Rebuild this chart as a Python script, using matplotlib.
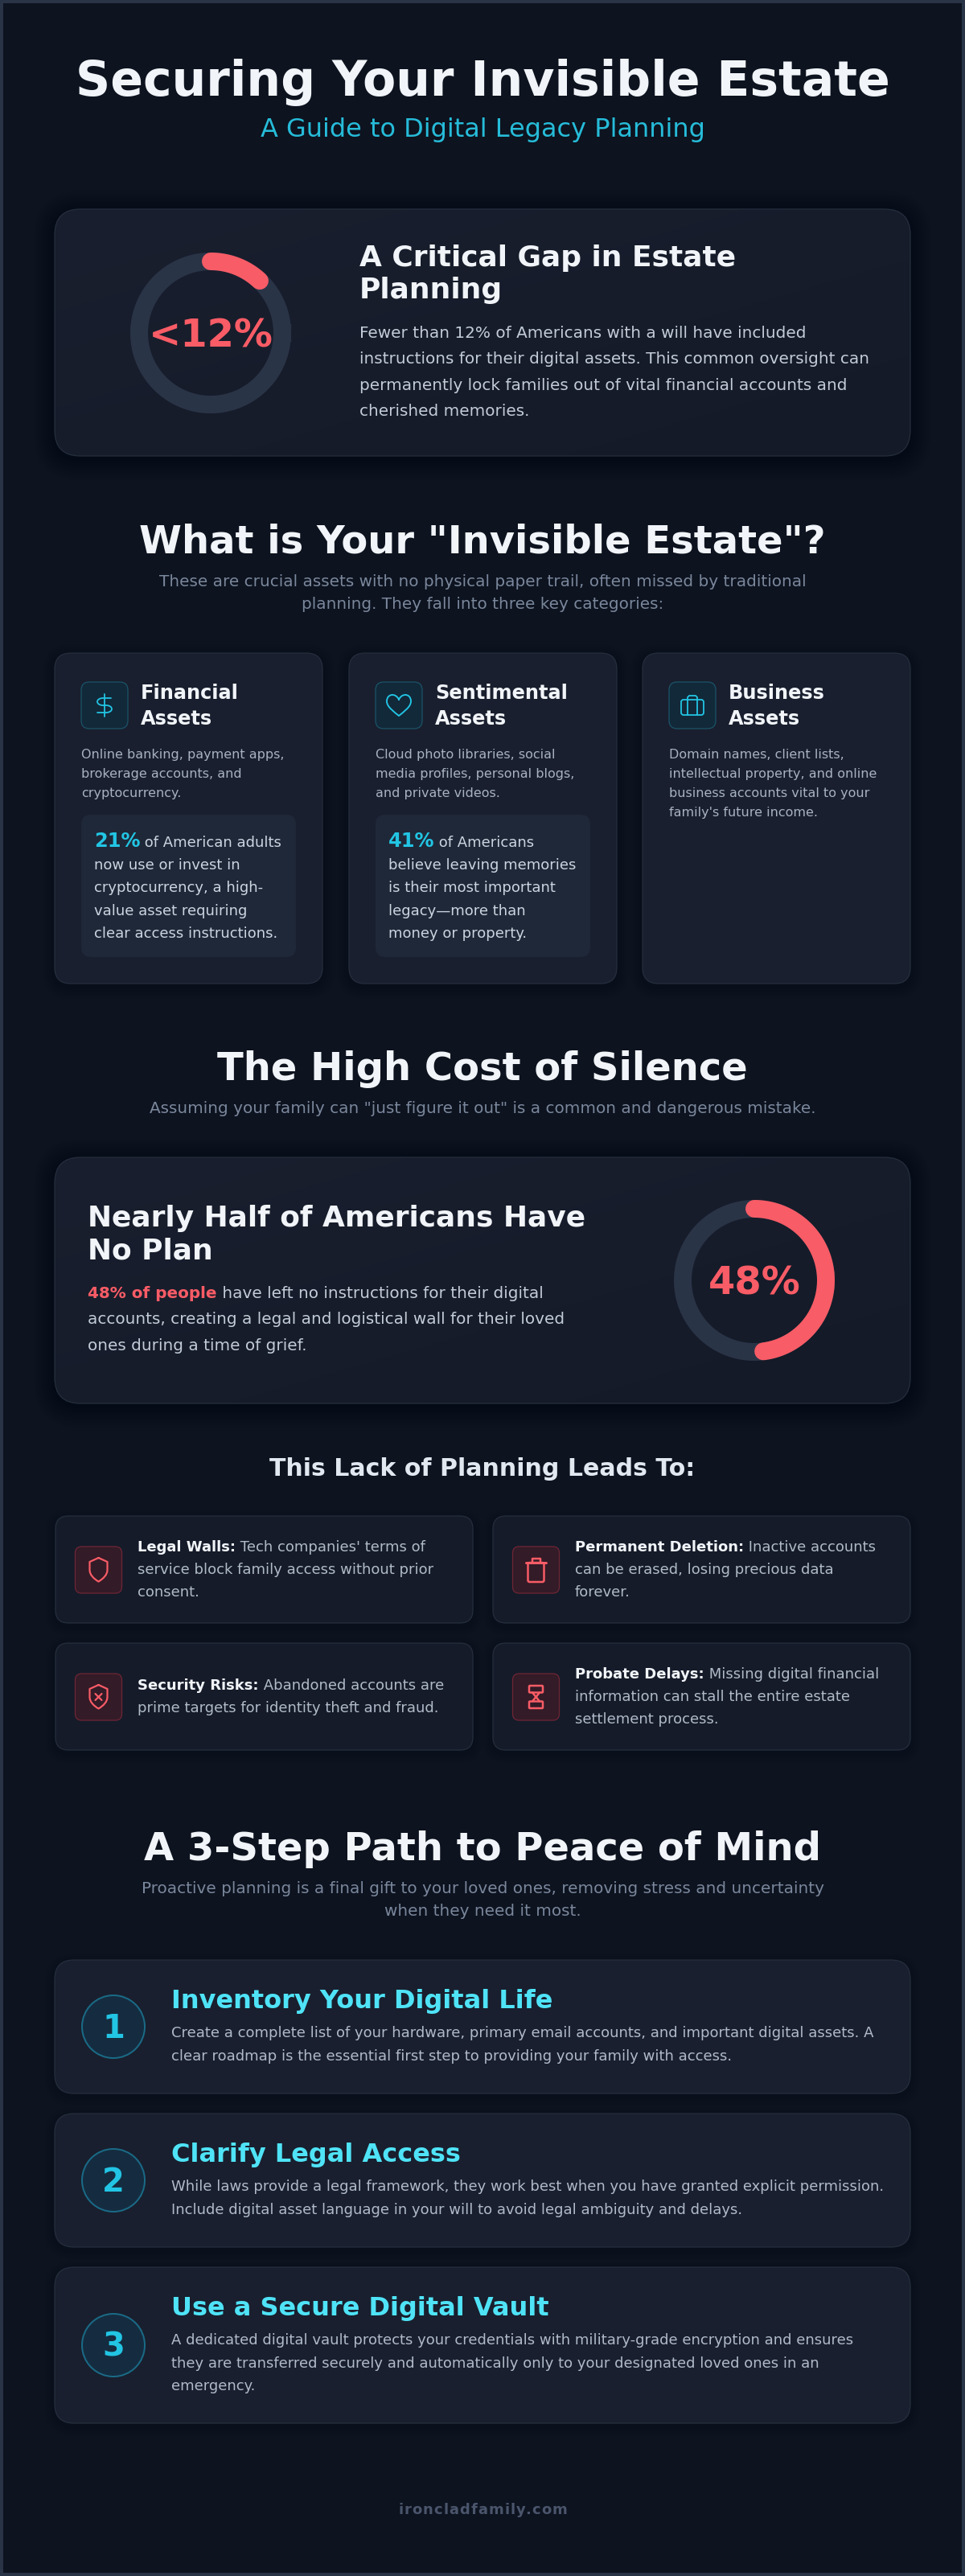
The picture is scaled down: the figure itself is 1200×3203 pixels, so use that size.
import numpy as np
import matplotlib
matplotlib.use('Agg')
import matplotlib.pyplot as plt
from matplotlib.patches import FancyBboxPatch, Circle, PathPatch
from matplotlib.path import Path
from matplotlib.colors import LinearSegmentedColormap

W, H = 1200, 3203

# values and texts
main_title = 'Securing Your Invisible Estate'
main_subtitle = 'A Guide to Digital Legacy Planning'
gap_value = 12
gap_label = '<12%'
gap_title = ['A Critical Gap in Estate', 'Planning']
gap_body = ['Fewer than 12% of Americans with a will have included',
            'instructions for their digital assets. This common oversight can',
            'permanently lock families out of vital financial accounts and',
            'cherished memories.']
invisible_title = 'What is Your "Invisible Estate"?'
invisible_sub = ['These are crucial assets with no physical paper trail, often missed by traditional',
                 'planning. They fall into three key categories:']
asset_titles = [['Financial', 'Assets'], ['Sentimental', 'Assets'], ['Business', 'Assets']]
asset_desc = [['Online banking, payment apps,', 'brokerage accounts, and', 'cryptocurrency.'],
              ['Cloud photo libraries, social', 'media profiles, personal blogs,', 'and private videos.'],
              ['Domain names, client lists,', 'intellectual property, and online', 'business accounts vital to your',
               "family's future income."]]
asset_stats = ['21%', '41%']
asset_stat_lines = [[' of American adults', 'now use or invest in', 'cryptocurrency, a high-', 'value asset requiring',
                     'clear access instructions.'],
                    [' of Americans', 'believe leaving memories', 'is their most important', 'legacy\u2014more than',
                     'money or property.']]
silence_title = 'The High Cost of Silence'
silence_sub = 'Assuming your family can "just figure it out" is a common and dangerous mistake.'
plan_value = 48
plan_label = '48%'
plan_title = ['Nearly Half of Americans Have', 'No Plan']
plan_lead = '48% of people'
plan_body = [' have left no instructions for their digital',
             'accounts, creating a legal and logistical wall for their loved',
             'ones during a time of grief.']
lack_title = 'This Lack of Planning Leads To:'
lack_heads = ['Legal Walls:', 'Permanent Deletion:', 'Security Risks:', 'Probate Delays:']
lack_lines = [[' Tech companies\' terms of', 'service block family access without prior', 'consent.'],
              [' Inactive accounts', 'can be erased, losing precious data', 'forever.'],
              [' Abandoned accounts are', 'prime targets for identity theft and fraud.'],
              [' Missing digital financial', 'information can stall the entire estate', 'settlement process.']]
path_title = 'A 3-Step Path to Peace of Mind'
path_sub = ['Proactive planning is a final gift to your loved ones, removing stress and uncertainty',
            'when they need it most.']
step_numbers = ['1', '2', '3']
step_titles = ['Inventory Your Digital Life', 'Clarify Legal Access', 'Use a Secure Digital Vault']
step_lines = [['Create a complete list of your hardware, primary email accounts, and important digital assets. A',
               'clear roadmap is the essential first step to providing your family with access.'],
              ['While laws provide a legal framework, they work best when you have granted explicit permission.',
               'Include digital asset language in your will to avoid legal ambiguity and delays.'],
              ['A dedicated digital vault protects your credentials with military-grade encryption and ensures',
               'they are transferred securely and automatically only to your designated loved ones in an',
               'emergency.']]
footer = 'ironcladfamily.com'

# colours
WHITE = '#f1f5f9'
GREY = '#c3ccd8'
MUTED = '#a8b2c2'
BODY = '#b0bac8'
SLATE = '#7a879c'
CYAN = '#22c5e4'
LIGHT_CYAN = '#4fe3f7'
RED = '#f85c66'
TRACK = '#2a3447'
EDGE = '#252d3c'

fig = plt.figure(figsize=(W / 100, H / 100), dpi=100)
ax = fig.add_axes([0, 0, 1, 1])
ax.set_xlim(0, W)
ax.set_ylim(H, 0)
ax.axis('off')


def px(size):
    return size * 0.72


def gradient(x, y, w, h, c1, c2, clip=None, z=1):
    cmap = LinearSegmentedColormap.from_list('g', [c1, c2])
    gx, gy = np.meshgrid(np.linspace(0, 1, 64), np.linspace(0, 1, 64))
    im = ax.imshow((gx + gy) / 2, extent=[x, x + w, y + h, y], cmap=cmap, aspect='auto', zorder=z,
                   interpolation='bilinear')
    if clip is not None:
        im.set_clip_path(clip)
    return im


def shadow(x, y, w, h, r, spread=26):
    # soft dark glow under the cards
    for d in range(spread, 0, -3):
        ax.add_patch(FancyBboxPatch((x - d, y - d + 4), w + 2 * d, h + 2 * d,
                                    boxstyle=f'round,pad=0,rounding_size={r + d}', fc='#000000', ec='none',
                                    alpha=0.02, zorder=1))


def box(x, y, w, h, r, fc, ec=EDGE, lw=1.3, z=2, fc2=None):
    p = FancyBboxPatch((x, y), w, h, boxstyle=f'round,pad=0,rounding_size={r}', fc=fc if fc2 is None else 'none',
                       ec=ec, lw=px(lw), zorder=z + 0.1)
    ax.add_patch(p)
    if fc2 is not None:
        gradient(x, y, w, h, fc, fc2, clip=p, z=z)
    return p


def label(x, y, s, size, color, bold=False, ha='left', z=5):
    return ax.text(x, y, s, fontsize=px(size), color=color, fontweight='bold' if bold else 'normal', ha=ha,
                   va='baseline', family='DejaVu Sans', zorder=z)


def width_of(t):
    return t.get_window_extent(fig.canvas.get_renderer()).width


def run(x, y, head, tail, size, head_size, head_color, tail_color):
    # bold lead followed by regular text on the same baseline
    t = label(x, y, head, head_size, head_color, bold=True)
    label(x + width_of(t), y, tail, size, tail_color)


def spaced(cx, y, s, size, color, spacing):
    # bold text with letter spacing, centred on cx
    probe = label(0, y, s, size, color, bold=True)
    total = width_of(probe) + spacing * (len(s) - 1)
    probe.remove()
    start = cx - total / 2
    for i, ch in enumerate(s):
        probe = label(0, y, s[:i + 1], size, color, bold=True)
        right = width_of(probe)
        probe.remove()
        one = label(0, y, ch, size, color, bold=True)
        one.set_x(start + right - width_of(one) + i * spacing)


def donut(cx, cy, value, text, size):
    r, stroke = 89, 22
    a = np.linspace(0, 2 * np.pi, 240)
    ax.plot(cx + r * np.cos(a), cy + r * np.sin(a), color=TRACK, lw=px(stroke), zorder=3)
    a = np.linspace(0, value / 100 * 2 * np.pi, 120) - np.pi / 2
    ax.plot(cx + r * np.cos(a), cy + r * np.sin(a), color=RED, lw=px(stroke), solid_capstyle='round', zorder=4)
    label(cx, cy + size * 0.36, text, size, RED, bold=True, ha='center')


def stroke_icon(cx, cy, verts, codes, color, lw=2.0):
    v = np.array(verts, dtype=float) + [cx, cy]
    ax.add_patch(PathPatch(Path(v, codes), fc='none', ec=color, lw=px(lw), zorder=6, capstyle='round',
                           joinstyle='round'))


M, L, C = Path.MOVETO, Path.LINETO, Path.CURVE4


def icon_dollar(cx, cy):
    stroke_icon(cx, cy, [(0, -14), (0, 14)], [M, L], CYAN, lw=1.8)
    stroke_icon(cx, cy, [(8, -9), (-2, -9), (-6, -9), (-9, -7), (-9, -4.5), (-9, -2), (-6, 0), (-2, 0), (2, 0),
                         (6, 0), (9, 2), (9, 4.5), (9, 7), (6, 9), (2, 9), (-9, 9)],
                [M, L, C, C, C, C, C, C, L, C, C, C, C, C, C, L], CYAN, lw=1.8)


def icon_heart(cx, cy):
    stroke_icon(cx, cy, [(0, -7), (-2, -12), (-6, -13), (-8, -13), (-12, -13), (-15, -10), (-15, -5), (-15, 2), (-6, 8),
                         (0, 13), (6, 8), (15, 2), (15, -5), (15, -10), (12, -13), (8, -13), (6, -13), (2, -12),
                         (0, -7)], [M] + [C] * 18, CYAN, lw=1.9)


def icon_case(cx, cy):
    ax.add_patch(FancyBboxPatch((cx - 14, cy - 7), 28, 19, boxstyle='round,pad=0,rounding_size=3', fc='none', ec=CYAN,
                                lw=px(1.8), zorder=6))
    stroke_icon(cx, cy, [(-6, 12), (-6, -10), (-4, -12), (4, -12), (6, -10), (6, 12)], [M, L, L, L, L, L], CYAN, lw=1.8)


def icon_shield(cx, cy, cross=False):
    stroke_icon(cx, cy, [(0, -15), (11, -10), (11, 0), (11, 6), (6, 11), (0, 14.5), (-6, 11), (-11, 6), (-11, 0),
                         (-11, -10), (0, -15)], [M, L, L, C, C, C, C, C, C, L, L], RED, lw=2.2)
    if cross:
        stroke_icon(cx, cy, [(-4, -4), (4, 4)], [M, L], RED, lw=2.2)
        stroke_icon(cx, cy, [(4, -4), (-4, 4)], [M, L], RED, lw=2.2)


def icon_trash(cx, cy):
    stroke_icon(cx, cy, [(-12.5, -9), (12.5, -9)], [M, L], RED, lw=3)
    stroke_icon(cx, cy, [(-5, -9), (-5, -14), (5, -14), (5, -9)], [M, L, L, L], RED, lw=2.5)
    ax.add_patch(FancyBboxPatch((cx - 10, cy - 9), 20, 24, boxstyle='round,pad=0,rounding_size=2', fc='none', ec=RED,
                                lw=px(2.5), zorder=6))


def icon_hourglass(cx, cy):
    for top in [-14, 5.5]:
        ax.add_patch(FancyBboxPatch((cx - 8.5, cy + top), 17, 8.5, boxstyle='round,pad=0,rounding_size=1', fc='none',
                                    ec=RED, lw=px(2.5), zorder=6))
    stroke_icon(cx, cy, [(-4.5, -5.5), (4.5, 5.5)], [M, L], RED, lw=2.5)
    stroke_icon(cx, cy, [(4.5, -5.5), (-4.5, 5.5)], [M, L], RED, lw=2.5)


# page
ax.add_patch(plt.Rectangle((0, 0), W, H, fc='#0d131f', ec='none', zorder=0))
for rect in [(0, 0, W, 4), (0, H - 4, W, 4), (0, 0, 4, H), (W - 4, 0, 4, H)]:
    ax.add_patch(plt.Rectangle(rect[:2], rect[2], rect[3], fc='#2a3447', ec='none', zorder=4))

# header
label(600, 119, main_title, 60, WHITE, bold=True, ha='center')
label(600, 170, main_subtitle, 32, '#26bcd9', ha='center')

# gap card
shadow(68, 260, 1064, 307, 32)
box(68, 260, 1064, 307, 32, '#191f2e', fc2='#141a27')
donut(262, 414, gap_value, gap_label, 48)
for i, s in enumerate(gap_title):
    label(447, 331 + i * 40, s, 36, WHITE, bold=True)
for i, s in enumerate(gap_body):
    label(447, 420 + i * 32.4, s, 20, GREY)

# invisible estate
label(600, 688, invisible_title, 48, WHITE, bold=True, ha='center')
for i, s in enumerate(invisible_sub):
    label(600, 729 + i * 28, s, 20, SLATE, ha='center')

card_x = [68, 434, 799]
icons = [icon_dollar, icon_heart, icon_case]
for k, cx in enumerate(card_x):
    shadow(cx, 812, 333, 411, 20, spread=15)
    box(cx, 812, 333, 411, 20, '#191f2e')
    box(cx + 33, 848, 58, 58, 10, '#12293a', ec='#1b5266')
    icons[k](cx + 62, 877)
    for i, s in enumerate(asset_titles[k]):
        label(cx + 107, 869 + i * 32, s, 24, WHITE, bold=True)
    for i, s in enumerate(asset_desc[k]):
        label(cx + 33, 943 + i * 24, s, 16, MUTED)
    if k < len(asset_stats):
        box(cx + 33, 1013, 267, 177, 12, '#1f2838', ec='none', lw=0)
        for i, s in enumerate(asset_stat_lines[k]):
            if i == 0:
                run(cx + 49, 1053, asset_stats[k], s, 18, 24, CYAN, '#cbd5e1')
            else:
                label(cx + 49, 1053 + i * 28.2, s, 18, '#cbd5e1')

# silence
label(600, 1343, silence_title, 48, WHITE, bold=True, ha='center')
label(600, 1384, silence_sub, 20, SLATE, ha='center')
shadow(68, 1439, 1064, 306, 32)
box(68, 1439, 1064, 306, 32, '#191f2e', fc2='#141a27')
donut(938, 1592, plan_value, plan_label, 48)
for i, s in enumerate(plan_title):
    label(109, 1525 + i * 40, s, 36, WHITE, bold=True)
for i, s in enumerate(plan_body):
    if i == 0:
        run(109, 1614, plan_lead, s, 20, 20, RED, GREY)
    else:
        label(109, 1614 + i * 32.5, s, 20, GREY)

# consequences
label(600, 1835, lack_title, 30, '#e2e8f0', bold=True, ha='center')
lack_x = [69, 613, 69, 613]
lack_y = [1885, 1885, 2043, 2043]
lack_base = [1929, 1929, 2101, 2087]
lack_icon = [icon_shield, icon_trash, lambda a, b: icon_shield(a, b, True), icon_hourglass]
for k in range(4):
    shadow(lack_x[k], lack_y[k], 519, 133, 16, spread=12)
    box(lack_x[k], lack_y[k], 519, 133, 16, '#151b29')
    box(lack_x[k] + 24.5, lack_y[k] + 38, 58, 58, 8, '#331b27', ec='#6d2535')
    lack_icon[k](lack_x[k] + 53.5, lack_y[k] + 67)
    for i, s in enumerate(lack_lines[k]):
        if i == 0:
            run(lack_x[k] + 102, lack_base[k], lack_heads[k], s, 18, 18, WHITE, BODY)
        else:
            label(lack_x[k] + 102, lack_base[k] + i * 28, s, 18, BODY)

# path
label(600, 2313, path_title, 48, WHITE, bold=True, ha='center')
for i, s in enumerate(path_sub):
    label(600, 2354 + i * 28, s, 20, SLATE, ha='center')
step_y = [2437, 2628, 2819]
step_h = [166, 166, 194]
for k in range(3):
    shadow(68, step_y[k], 1064, step_h[k], 24, spread=12)
    box(68, step_y[k], 1064, step_h[k], 24, '#191f2e')
    cy = step_y[k] + step_h[k] / 2
    ax.add_patch(Circle((141, cy), 39, fc='#152c40', ec='#1a6a86', lw=px(2), zorder=4))
    label(141, cy + 14, step_numbers[k], 40, CYAN, bold=True, ha='center')
    label(213, step_y[k] + 60, step_titles[k], 32, LIGHT_CYAN, bold=True)
    for i, s in enumerate(step_lines[k]):
        label(213, step_y[k] + 96 + i * 28.6, s, 18, BODY)

# footer
spaced(600, 3126, footer, 18, '#4a556c', 1.1)

ax.set_xlim(0, W)
ax.set_ylim(H, 0)
fig.savefig('out.png', dpi=100, facecolor='#0d131f')
